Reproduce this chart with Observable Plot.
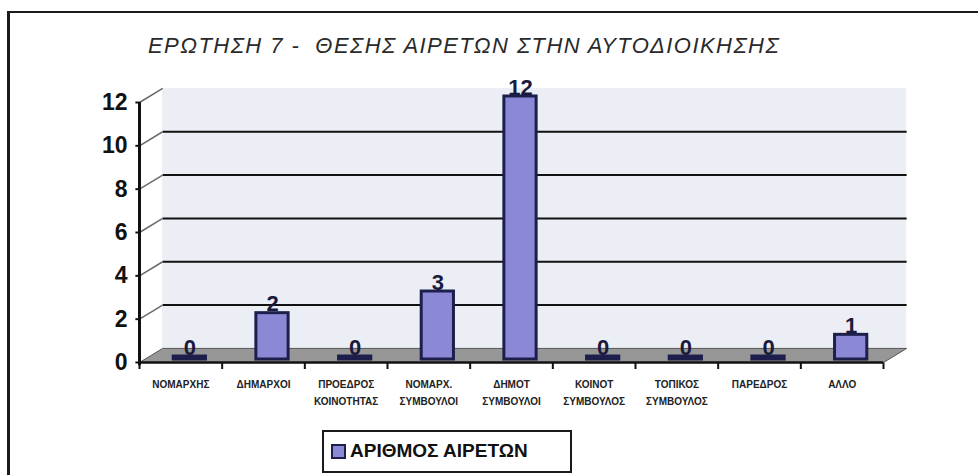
<!DOCTYPE html>
<html>
<head>
<meta charset="utf-8">
<script src="https://cdn.jsdelivr.net/npm/d3@7"></script>
<script src="https://cdn.jsdelivr.net/npm/@observablehq/plot@0.6"></script>
<style>
  html, body { margin: 0; padding: 0; background: #ffffff; }
  #page { position: relative; width: 978px; height: 475px; overflow: hidden; background: #fff; font-family: "Liberation Sans", Arial, sans-serif; }
  #frame { position: absolute; left: 7px; top: 11px; width: 990px; height: 480px; border-left: 3px solid #1a1a1a; border-top: 2.5px solid #1a1a1a; }
  #title { position: absolute; left: 148px; top: 33px; font-size: 22px; font-style: italic; color: #2a2a2a; white-space: pre; letter-spacing: 1.45px; }
  #chart { position: absolute; left: 0; top: 70px; }
  #legend { position: absolute; left: 322px; top: 430px; width: 246px; height: 39px; border: 2px solid #1a1a1a; background: #fff; }
  #legend .sw { position: absolute; left: 7px; top: 12px; width: 11px; height: 11px; background: #8b89d6; border: 2px solid #1e1e4c; }
  #legend .lb { position: absolute; left: 26px; top: 8px; font-size: 19px; font-weight: bold; color: #111; white-space: nowrap; }
</style>
</head>
<body>
<div id="page">
  <div id="frame"></div>
  <div id="title"></div>
  <div id="chart"></div>
  <div id="legend"><div class="sw"></div><div class="lb"></div></div>
</div>
<script>
const chartTitle = "ΕΡΩΤΗΣΗ 7 -  ΘΕΣΗΣ ΑΙΡΕΤΩΝ ΣΤΗΝ ΑΥΤΟΔΙΟΙΚΗΣΗΣ";
const seriesName = "ΑΡΙΘΜΟΣ ΑΙΡΕΤΩΝ";
const categories = [
  "ΝΟΜΑΡΧΗΣ",
  "ΔΗΜΑΡΧΟΙ",
  "ΠΡΟΕΔΡΟΣ\nΚΟΙΝΟΤΗΤΑΣ",
  "ΝΟΜΑΡΧ.\nΣΥΜΒΟΥΛΟΙ",
  "ΔΗΜΟΤ\nΣΥΜΒΟΥΛΟΙ",
  "ΚΟΙΝΟΤ\nΣΥΜΒΟΥΛΟΣ",
  "ΤΟΠΙΚΟΣ\nΣΥΜΒΟΥΛΟΣ",
  "ΠΑΡΕΔΡΟΣ",
  "ΑΛΛΟ"
];
const values = [0, 2, 0, 3, 12, 0, 0, 0, 1];
const yTicks = [0, 2, 4, 6, 8, 10, 12];

document.getElementById("title").textContent = chartTitle;
document.querySelector("#legend .lb").textContent = seriesName;

const n = categories.length;
const data = categories.map((c, i) => ({cat: c, i, value: values[i]}));
// 3-D depth of the back wall, expressed in scale units
const DX = 0.28, DY = 0.65;
const yMax = yTicks[yTicks.length - 1];
const floorPts = [
  {x: 0, y: 0}, {x: n, y: 0}, {x: n + DX, y: DY}, {x: DX, y: DY}, {x: 0, y: 0}
];

const plot = Plot.plot({
  width: 978,
  height: 350,
  marginTop: 32,
  marginBottom: 58,
  marginLeft: 139,
  marginRight: 95,
  style: {fontFamily: "Liberation Sans, Arial, sans-serif", background: "transparent", overflow: "visible"},
  x: {type: "linear", domain: [0, n], axis: null},
  y: {type: "linear", domain: [0, yMax], axis: null},
  marks: [
    // back wall
    Plot.rect([0], {x1: DX, x2: n + DX, y1: DY, y2: yMax + DY, fill: "#eceef5"}),
    // floor
    Plot.line(floorPts, {x: "x", y: "y", fill: "#979797", stroke: "#555", strokeWidth: 1}),
    Plot.ruleY([0], {x1: 0, x2: n, stroke: "#111", strokeWidth: 2.5}),
    // gridlines on back wall
    Plot.link(yTicks.filter(t => t > 0 && t < yMax), {
      x1: DX, x2: n + DX, y1: d => d + DY, y2: d => d + DY, stroke: "#111", strokeWidth: 2
    }),
    // slanted connectors from axis to wall
    Plot.link(yTicks.filter(t => t > 0), {
      x1: 0, x2: DX, y1: d => d, y2: d => d + DY, stroke: "#6a6a6a", strokeWidth: 1.5
    }),
    // y axis line
    Plot.ruleX([0], {y1: -0.15, y2: yMax, stroke: "#111", strokeWidth: 3}),
    // y tick marks
    Plot.link(yTicks, {x1: -0.05, x2: 0, y1: d => d, y2: d => d, stroke: "#111", strokeWidth: 2}),
    // x tick marks at category boundaries
    Plot.link(d3.range(n + 1), {x1: d => d, x2: d => d, y1: 0, y2: -0.3, stroke: "#111", strokeWidth: 2}),
    // bars
    Plot.rect(data, {
      x1: d => d.i + 0.5 - 0.195, x2: d => d.i + 0.5 + 0.195,
      y1: 0, y2: "value",
      dx: 9, dy: -3, insetTop: -3,
      fill: "#8b89d6", stroke: "#1e1e4c", strokeWidth: 3
    }),
    // value labels
    Plot.text(data, {
      x: d => d.i + 0.5, y: "value", text: d => String(d.value),
      dx: 9, dy: -15, fontSize: 22, fontWeight: "bold", fill: "#1a1a3c"
    }),
    // y labels
    Plot.text(yTicks, {
      x: 0, y: d => d, text: d => String(d), dx: -12, textAnchor: "end",
      fontSize: 23, fontWeight: "bold", fill: "#111"
    }),
    // x labels
    Plot.text(data, {
      x: d => d.i + 0.5, y: 0, text: "cat", dy: 13, lineAnchor: "top", lineHeight: 1.75,
      fontSize: 10, fontWeight: "bold", fill: "#222"
    })
  ]
});
document.getElementById("chart").appendChild(plot);
</script>
</body>
</html>
